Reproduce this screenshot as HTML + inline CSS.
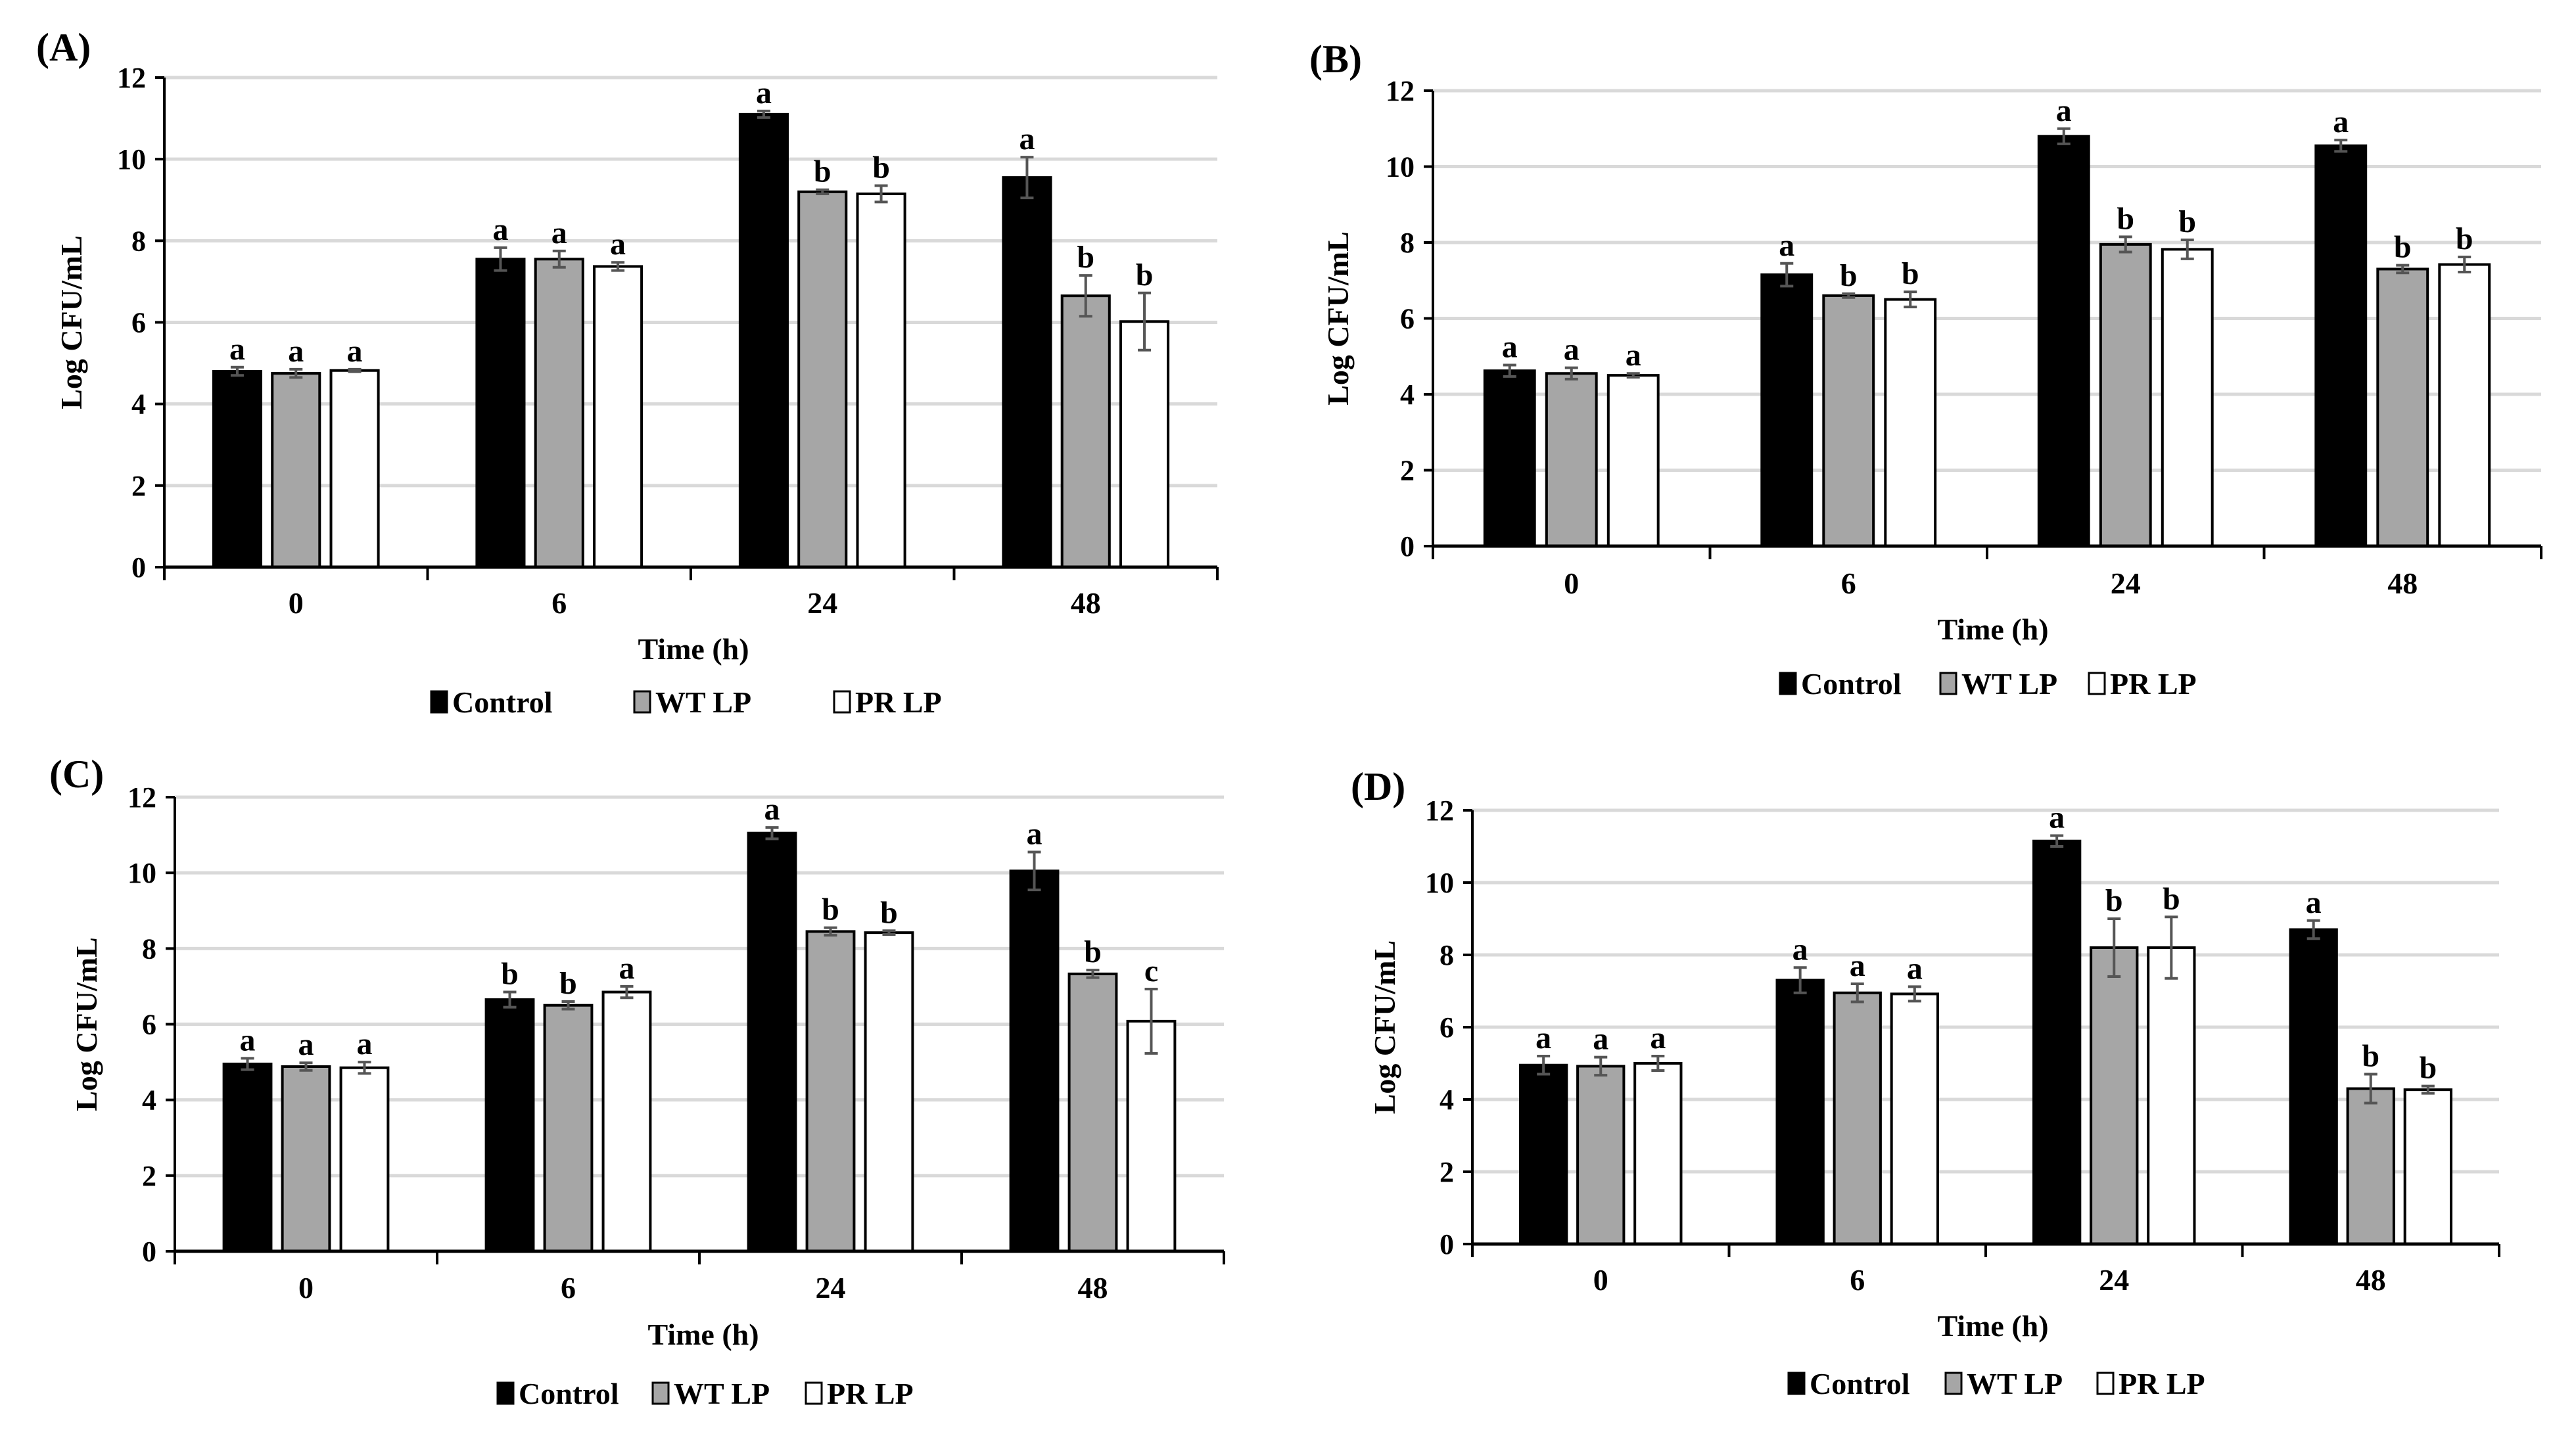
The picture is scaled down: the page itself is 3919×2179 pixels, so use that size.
<!DOCTYPE html>
<html><head><meta charset="utf-8"><style>
html,body{margin:0;padding:0;background:#fff}
svg{display:block}
text{font-family:"Liberation Serif","Times New Roman",serif;font-weight:bold;fill:#000}
</style></head><body>
<svg id="fig" width="3919" height="2179" viewBox="0 0 3919 2179" xmlns="http://www.w3.org/2000/svg"></svg>
<script>
const categories = ["0","6","24","48"];
const seriesNames = ["Control","WT LP","PR LP"];
const yTicks = [0,2,4,6,8,10,12];
const aControl = [4.8,7.55,11.1,9.55];
const aWT = [4.75,7.55,9.2,6.65];
const aPR = [4.82,7.37,9.15,6.02];
const aErrControl = [0.1,0.28,0.08,0.5];
const aErrWT = [0.1,0.2,0.05,0.5];
const aErrPR = [0.03,0.1,0.2,0.7];
const aLetters = [["a","a","a","a"],["a","a","b","b"],["a","a","b","b"]];
const bControl = [4.62,7.15,10.8,10.55];
const bWT = [4.55,6.6,7.95,7.3];
const bPR = [4.5,6.5,7.82,7.42];
const bErrControl = [0.15,0.3,0.2,0.15];
const bErrWT = [0.15,0.05,0.2,0.1];
const bErrPR = [0.05,0.2,0.25,0.2];
const bLetters = [["a","a","a","a"],["a","b","b","b"],["a","b","b","b"]];
const cControl = [4.95,6.65,11.05,10.05];
const cWT = [4.88,6.5,8.45,7.33];
const cPR = [4.85,6.85,8.42,6.08];
const cErrControl = [0.15,0.2,0.15,0.5];
const cErrWT = [0.1,0.1,0.1,0.1];
const cErrPR = [0.15,0.15,0.05,0.85];
const cLetters = [["a","b","a","a"],["a","b","b","b"],["a","a","b","c"]];
const dControl = [4.95,7.3,11.15,8.7];
const dWT = [4.92,6.95,8.2,4.3];
const dPR = [5.0,6.92,8.2,4.27];
const dErrControl = [0.25,0.35,0.15,0.25];
const dErrWT = [0.25,0.25,0.8,0.4];
const dErrPR = [0.2,0.2,0.85,0.1];
const dLetters = [["a","a","a","a"],["a","a","b","b"],["a","a","b","b"]];

const NS="http://www.w3.org/2000/svg";
const svg=document.getElementById('fig');
function mk(tag,attrs,parent,txt){const e=document.createElementNS(NS,tag);for(const k in attrs)e.setAttribute(k,attrs[k]);if(txt!==undefined)e.textContent=txt;(parent||svg).appendChild(e);return e;}
const fills=["#000","#a6a6a6","#fff"];

function panel(id,label,L,R,T,B,vals,errs,letters,lab,leg,xt,catY,yt){
  const g=mk('g',{});
  
  
  const y=v=>B-(v/12)*(B-T);
  const cw=(R-L)/4;
  const bw=cw*0.18, sp=cw*0.223;
  yTicks.forEach(t=>{
    if(t>0){const gl=mk('line',{x1:L,x2:R,y1:y(t),y2:y(t),stroke:'#d9d9d9','stroke-width':5},g);
      }
    const tl=mk('text',{x:L-28,y:y(t)+15,'text-anchor':'end','font-size':44},g,String(t));
    
    mk('line',{x1:L-14,x2:L,y1:y(t),y2:y(t),stroke:'#000','stroke-width':4},g);
  });
  for(let i=0;i<=4;i++) mk('line',{x1:L+i*cw,x2:L+i*cw,y1:B,y2:B+20,stroke:'#000','stroke-width':4},g);
  categories.forEach((c,i)=>{
    const cx=L+cw*(i+0.5);
    const ct=mk('text',{x:cx,y:catY+2,'text-anchor':'middle','font-size':46},g,c);
    
    for(let s=0;s<3;s++){
      const bx=cx+(s-1)*sp-bw/2, v=vals[s][i], e=errs[s][i];
      const r=mk('rect',{x:bx,y:y(v),width:bw,height:B-y(v),fill:fills[s],stroke:'#000','stroke-width':4},g);
      
      
      const ex=bx+bw/2;
      const eb=mk('path',{d:`M${ex},${y(v+e)}V${y(v-e)}M${ex-10},${y(v+e)}H${ex+10}M${ex-10},${y(v-e)}H${ex+10}`,stroke:'#555','stroke-width':4,fill:'none'},g);
      
      const lt=mk('text',{x:ex,y:y(v+e)-12,'text-anchor':'middle','font-size':48},g,letters[s][i]);
      
    }
  });
  mk('line',{x1:L,x2:L,y1:T,y2:B,stroke:'#000','stroke-width':4},g);
  mk('line',{x1:L,x2:R,y1:B,y2:B,stroke:'#000','stroke-width':5},g);
  const pl=mk('text',{x:lab[0],y:lab[1],'font-size':60},g,label);
  
  const yc=(T+B)/2;
  const ytl=mk('text',{x:yt+4,y:yc,'text-anchor':'middle','font-size':46,transform:`rotate(-90 ${yt+4} ${yc})`},g,'Log CFU/mL');
  
  const xtl=mk('text',{x:xt[0],y:xt[1]+16,'text-anchor':'middle','font-size':46},g,'Time (h)');
  
  seriesNames.forEach((n,s)=>{
    const lx=leg[0][s], ly=leg[1];
    const lg=mk('g',{},g);
    
    mk('rect',{x:lx-12,y:ly-16,width:24,height:32,fill:fills[s],stroke:'#000','stroke-width':3},lg);
    mk('text',{x:lx+20,y:ly+16,'font-size':46},lg,n);
  });
}
panel('a','(A)',250,1852,118,863,[aControl,aWT,aPR],[aErrControl,aErrWT,aErrPR],aLetters,[55,92],[[668,977,1281],1068],[1055,987],931,120);
panel('b','(B)',2180,3866,138,831,[bControl,bWT,bPR],[bErrControl,bErrWT,bErrPR],bLetters,[1992,110],[[2720,2964,3190],1040],[3032,957],901,2047);
panel('c','(C)',266,1862,1213,1904,[cControl,cWT,cPR],[cErrControl,cErrWT,cErrPR],cLetters,[75,1198],[[769,1005,1238],2120],[1070,2030],1973,143);
panel('d','(D)',2240,3802,1233,1893,[dControl,dWT,dPR],[dErrControl,dErrWT,dErrPR],dLetters,[2055,1217],[[2733,2972,3203],2105],[3032,2017],1961,2118);
</script>
</body></html>
